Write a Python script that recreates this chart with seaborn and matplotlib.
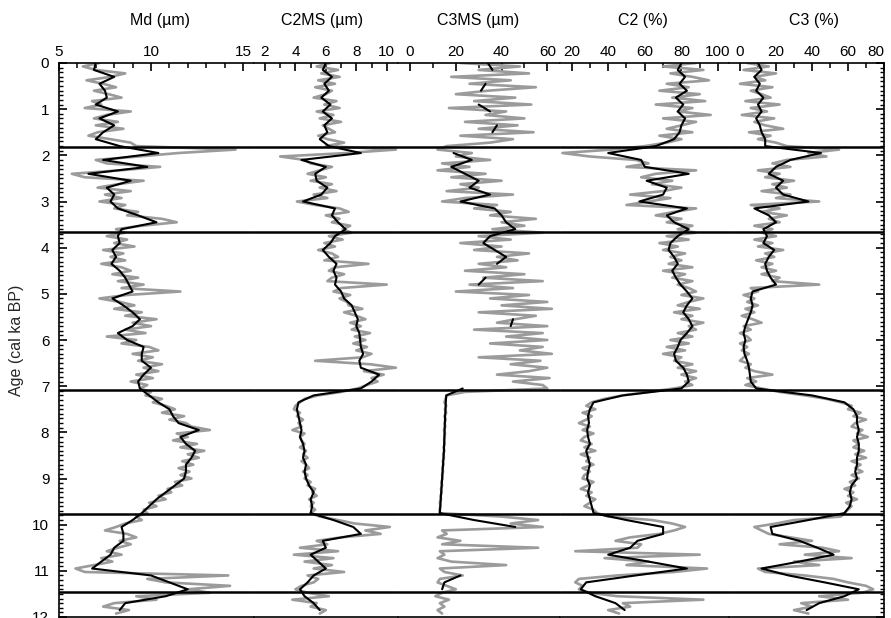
import numpy as np
import pandas as pd
import matplotlib
matplotlib.use('Agg')
import matplotlib.pyplot as plt
from matplotlib.ticker import MultipleLocator
import seaborn as sns

sns.set_style('ticks')
plt.rcParams['font.family'] = ['Liberation Sans', 'DejaVu Sans']
plt.rcParams['text.color'] = 'black'
plt.rcParams['axes.edgecolor'] = 'black'
plt.rcParams['xtick.color'] = 'black'
plt.rcParams['ytick.color'] = 'black'

nan = np.nan

# --- data ---
# raw samples every 0.075 ka, smoothed curve every 0.15 ka
age_raw = np.arange(160) * 0.075
age_smooth = np.arange(80) * 0.15

md_raw = [
    7.2, 6.3, 7.0, 8.6, 7.8, 6.5, 7.4, 8.1, 6.9, 7.7,
    8.4, 6.8, 7.3, 6.4, 8.9, 7.6, 6.9, 8.2, 7.0, 8.5,
    7.1, 6.6, 7.8, 8.9, 9.2, 14.6, 11.5, 9.3, 7.0, 7.6,
    10.5, 8.3, 5.7, 6.4, 9.6, 8.2, 7.1, 8.9, 7.5, 8.4,
    7.2, 8.6, 8.0, 9.3, 8.7, 10.6, 11.4, 9.5, 8.1, 8.6,
    7.6, 8.7, 8.0, 9.1, 7.4, 8.5, 7.8, 8.6, 7.3, 8.4,
    8.9, 7.9, 9.3, 8.2, 9.6, 8.4, 11.6, 8.7, 7.2, 8.3,
    9.1, 8.0, 9.5, 8.6, 10.3, 9.0, 10.0, 8.6, 9.7, 7.6,
    9.2, 8.4, 9.9, 10.4, 9.0, 10.1, 9.3, 10.6, 9.6, 10.4,
    9.2, 10.1, 8.9, 9.8, 9.4, 10.0, 9.7, 10.6, 10.1, 10.8,
    11.3, 10.6, 11.8, 11.0, 11.9, 12.2, 13.2, 11.4, 12.0, 11.2,
    12.5, 11.6, 12.9, 12.0, 12.6, 11.7, 12.3, 11.5, 12.1, 11.6,
    12.2, 11.3, 11.7, 10.9, 11.1, 10.4, 10.8, 9.9, 10.3, 9.6,
    9.8, 9.2, 9.5, 8.6, 8.1, 7.5, 8.7, 9.2, 8.3, 8.9,
    8.2, 7.6, 8.4, 7.3, 7.9, 6.9, 5.9, 6.4, 14.2, 9.8,
    10.8, 14.3, 12.0, 13.2, 9.2, 10.3, 8.0, 7.4, 8.8, 8.1,
]
md_smooth = [
    7.0, 6.9, 8.0, 7.2, 7.5, 7.6, 7.0, 8.2, 7.2, 8.0,
    7.4, 7.0, 8.3, 10.4, 7.4, 9.8, 6.6, 8.9, 7.6, 8.0,
    7.8, 8.2, 9.3, 10.3, 8.4, 8.2, 8.3, 7.9, 8.1, 7.85,
    8.3, 8.6, 8.8, 9.0, 7.9, 8.5, 9.0, 9.4, 9.0, 8.2,
    8.7, 9.6, 9.5, 9.5, 10.0, 9.6, 9.3, 9.4, 9.9, 10.4,
    11.0, 11.2, 11.5, 12.6, 11.6, 11.9, 12.4, 12.2, 11.9, 11.9,
    11.8, 11.3, 10.8, 10.3, 9.9, 9.5, 9.0, 8.4, 8.5, 8.5,
    8.0, 7.8, 7.3, 6.8, 10.0, 11.0, 12.0, 10.8, 8.6, 8.3,
]

c2ms_raw = [
    6.3, 5.4, 6.8, 5.7, 6.9, 5.5, 6.6, 5.3, 6.4, 6.0,
    5.2, 6.7, 5.9, 6.9, 5.4, 6.5, 5.6, 7.0, 5.8, 6.2,
    6.6, 5.5, 6.1, 7.2, 6.0, 10.6, 7.4, 3.0, 4.6, 5.0,
    6.4, 5.6, 4.8, 6.0, 5.0, 6.4, 5.6, 6.7, 5.2, 6.1,
    4.1, 5.3, 6.9, 7.5, 6.0, 6.9, 6.4, 7.6, 7.1, 7.7,
    6.2, 7.1, 5.9, 6.6, 5.5, 6.4, 6.8, 5.9, 8.8, 6.6,
    6.2, 7.2, 6.4, 6.1, 10.0, 7.0, 6.5, 7.6, 6.9, 7.4,
    7.5, 8.4, 7.2, 8.0, 8.6, 7.6, 8.3, 7.7, 8.9, 7.9,
    8.6, 7.8, 8.7, 8.0, 9.0, 8.4, 5.3, 8.9, 10.6, 8.5,
    9.8, 9.0, 9.4, 8.7, 8.1, 7.0, 5.5, 4.6, 4.3, 4.0,
    3.9, 4.3, 4.1, 4.5, 4.2, 4.4, 3.8, 4.6, 4.3, 4.4,
    4.6, 4.3, 4.7, 4.5, 4.8, 4.4, 4.7, 4.9, 4.5, 4.8,
    4.6, 5.0, 4.8, 5.3, 5.1, 5.4, 4.9, 5.2, 5.0, 5.3,
    5.0, 5.6, 6.8, 7.9, 10.2, 8.6, 9.6, 7.0, 5.4, 6.1,
    4.3, 6.8, 3.9, 6.5, 4.6, 6.4, 5.2, 7.2, 4.8, 5.5,
    5.2, 4.4, 4.0, 4.8, 6.2, 3.8, 5.4, 5.0, 6.0, 5.6,
]
c2ms_smooth = [
    6.0, 5.8, 6.4, 5.9, 6.2, 5.7, 6.3, 5.8, 6.4, 5.9,
    6.1, 5.6, 6.2, 8.3, 4.4, 6.0, 5.3, 5.4, 6.1, 5.7,
    4.5, 6.6, 6.4, 6.8, 7.3, 6.6, 6.3, 5.8, 6.2, 6.7,
    6.5, 6.7, 6.6, 7.0, 7.2, 7.7, 7.9, 8.1, 8.0, 8.2,
    8.25, 8.3, 8.45, 8.2, 8.3, 9.5, 9.0, 8.3, 5.2, 4.2,
    4.1, 4.2, 4.3, 4.4, 4.3, 4.5, 4.6, 4.5, 4.7, 4.6,
    4.7, 4.9, 5.2, 5.0, 5.1, 5.0, 6.5, 7.8, 8.3, 5.8,
    6.0, 5.0, 5.5, 6.0, 5.2, 4.8, 4.3, 4.6, 5.2, 5.6,
]

c3ms_raw = [
    22, 48, 30, 52, 18, 44, 26, 55, 34, 20,
    46, 28, 53, 17, 42, 33, 50, 24, 47, 30,
    54, 22, 45, 35, 16, 12, 27, 20, 35, 14,
    26, 12, 33, 18, 40, 22, 30, 16, 45, 24,
    14, 38, 28, 44, 35, 55, 40, 50, 36, 58,
    30, 44, 22, 40, 28, 52, 38, 47, 30, 42,
    24, 50, 32, 58, 26, 45, 20, 52, 35, 60,
    40, 62, 30, 55, 46, 38, 60, 28, 58, 42,
    60, 35, 58, 48, 62, 30, 57, 44, 60, 52,
    38, 61, 45, 58, 60, 24, 16, 15.5, 15.0, 15.8,
    15.2, 15.8, 15.0, 15.6, 15.1, 15.4, 14.8, 15.3, 15.0, 14.9,
    15.1, 14.6, 15.0, 14.5, 14.8, 14.3, 14.6, 14.1, 14.4, 14.0,
    14.2, 13.7, 14.0, 13.5, 13.8, 13.3, 13.5, 13.0, 13.3, 12.9,
    13.0, 40, 56, 44, 58, 14, 16, 12, 22, 14,
    56, 13, 15, 12, 18, 42, 13, 15, 23, 13,
    12, 16, 20, 14, 11, 17, 13, 15, 12, 14,
]
c3ms_smooth = [
    34, 36, nan, 33, 31, nan, 30, 35, nan, 38,
    36, nan, nan, 19, 27, 18, 24, 30, 26, 35,
    22, 37, 40, 42, 46, 35, 32, 37, 42, 38,
    nan, 33, 30, nan, nan, nan, nan, 45, 44, nan,
    nan, nan, nan, nan, nan, nan, nan, 23, 15.8, 15.6,
    15.5, 15.3, 15.2, 15.1, 15.0, 14.9, 14.8, 14.6, 14.4, 14.2,
    14.0, 13.8, 13.6, 13.4, 13.2, 13.0, 28, 46, nan, nan,
    nan, nan, nan, nan, 22, 15, 14, nan, nan, nan,
]

c2_raw = [
    88, 70, 92, 74, 86, 95, 72, 84, 68, 90,
    75, 93, 66, 86, 78, 96, 70, 88, 80, 72,
    86, 68, 80, 72, 60, 42, 15, 30, 55, 62,
    50, 88, 66, 58, 75, 64, 80, 70, 52, 74,
    62, 50, 88, 76, 66, 80, 72, 86, 78, 88,
    72, 84, 68, 78, 70, 82, 74, 80, 73, 86,
    70, 82, 75, 86, 78, 84, 88, 80, 92, 84,
    78, 90, 76, 86, 80, 92, 84, 88, 78, 86,
    74, 84, 72, 82, 70, 80, 76, 86, 78, 88,
    80, 88, 82, 86, 76, 62, 48, 38, 31, 28,
    33, 26, 31, 28, 24, 30, 26, 32, 27, 25,
    31, 27, 33, 25, 30, 28, 32, 26, 30, 27,
    26, 32, 29, 25, 31, 28, 33, 30, 27, 32,
    34, 40, 64, 75, 82, 76, 68, 52, 44, 58,
    56, 22, 90, 38, 62, 50, 94, 76, 45, 24,
    22, 26, 24, 30, 45, 92, 48, 52, 40, 46,
]
c2_smooth = [
    80, 78, 82, 79, 83, 77, 81, 78, 82, 80,
    79, 76, 66, 40, 58, 60, 84, 61, 72, 70,
    57, 83, 72, 76, 84, 78, 74, 73, 76, 78,
    75, 77, 79.5, 83, 86, 83, 81, 84, 86, 83,
    79.5, 78, 76, 77, 81, 83, 84, 80, 48, 32,
    30, 29, 29.5, 28.5, 29, 30, 28, 29, 30, 29,
    28.5, 30, 29, 30, 31, 32, 50, 70, 70, 56,
    52, 40, 62, 83, 55, 28, 25, 33, 44, 49,
]

c3_raw = [
    4, 16, 2, 20, 8, 14, 0, 18, 6, 12,
    17, 3, 22, 6, 15, 1, 19, 8, 14, 24,
    5, 17, 10, 20, 26, 55, 38, 48, 26, 18,
    28, 10, 22, 14, 30, 18, 26, 12, 28, 20,
    44, 6, 22, 12, 26, 16, 22, 8, 18, 12,
    20, 8, 18, 10, 24, 14, 19, 9, 18, 12,
    20, 12, 22, 18, 44, 6, 10, 2, 8, 4,
    10, 3, 8, 1, 7, 12, 2, 6, 0, 4,
    6, 0, 4, 1, 5, 2, 0, 6, 3, 8,
    18, 4, 9, 3, 12, 22, 36, 48, 56, 62,
    60, 67, 63, 70, 64, 62, 68, 65, 71, 63,
    66, 63, 69, 64, 70, 62, 67, 64, 68, 62,
    66, 61, 64, 58, 63, 60, 65, 59, 62, 60,
    58, 56, 30, 20, 8, 12, 16, 28, 40, 22,
    46, 55, 36, 62, 30, 44, 10, 14, 36, 52,
    60, 70, 74, 68, 44, 60, 34, 40, 30, 38,
]
c3_smooth = [
    10, 12, 8, 11, 9, 13, 10, 12, 9, 11,
    12, 14, 14, 45, 28, 20, 16, 24, 20, 24,
    38, 8, 16, 20, 13, 15, 13, 19, 16, 14,
    15, 17, 20, 7, 6, 7, 6, 4.5, 3, 2,
    3, 2, 2.5, 4, 5, 5.5, 6, 9, 40, 58,
    63, 65, 65, 66, 65, 66, 66, 65, 65, 64,
    65, 62, 61, 62, 61, 58, 38, 17, 18, 33,
    43, 52, 33, 12, 27, 47, 66, 58, 44, 37,
]

titles = ['Md (µm)', 'C2MS (µm)', 'C3MS (µm)', 'C2 (%)', 'C3 (%)']
boundaries = [1.81, 3.65, 7.08, 9.77, 11.45]

# --- layout (pixel positions of the panels in the 891x618 figure) ---
W, H = 891, 618
edges = [59, 254, 398, 559.5, 729, 884]
top_px, bot_px = 63, 617
title_x = [160, 322, 478, 643, 814]
xlims = [(5, 15.6), (1.28, 10.74), (-5.3, 65.35), (13.4, 106), (-6.1, 80)]
majors = [5, 2, 20, 20, 20]
minors = [1, 1, 10, 10, 10]
raws = [md_raw, c2ms_raw, c3ms_raw, c2_raw, c3_raw]
smooths = [md_smooth, c2ms_smooth, c3ms_smooth, c2_smooth, c3_smooth]


def trace(ax, ages, vals, color, lw, z):
    df = pd.DataFrame({'age': ages, 'val': vals})
    df['seg'] = df['val'].isna().cumsum()
    df = df.dropna()
    sns.lineplot(data=df, x='val', y='age', units='seg', estimator=None,
                 sort=False, orient='y', color=color, linewidth=lw,
                 legend=False, ax=ax, zorder=z)


fig = plt.figure(figsize=(W / 100, H / 100), dpi=100)
axes = []
for i in range(5):
    x0, x1 = edges[i], edges[i + 1]
    ax = fig.add_axes([x0 / W, 1 - bot_px / H, (x1 - x0) / W, (bot_px - top_px) / H])
    axes.append(ax)
    trace(ax, age_raw, raws[i], '#9b9b9b', 1.9, 2)
    trace(ax, age_smooth, smooths[i], 'black', 1.5, 3)
    for b in boundaries:
        ax.axhline(b, color='black', lw=1.8, zorder=4)
    ax.set_xlim(*xlims[i])
    ax.set_ylim(12, 0)
    ax.set_xlabel('')
    ax.set_ylabel('')
    ax.xaxis.set_major_locator(MultipleLocator(majors[i]))
    ax.xaxis.set_minor_locator(MultipleLocator(minors[i]))
    ax.xaxis.set_ticks_position('top')
    ax.xaxis.set_label_position('top')
    ax.tick_params(axis='x', which='both', direction='in', top=True, bottom=False,
                   labeltop=True, labelbottom=False, labelsize=11, pad=3,
                   color='black', zorder=6)
    ax.tick_params(axis='x', which='major', length=6, width=1.2)
    ax.tick_params(axis='x', which='minor', length=3.5, width=1.1)
    for s in ['top', 'bottom', 'left', 'right']:
        ax.spines[s].set_linewidth(1.2)
        ax.spines[s].set_zorder(6)
    if i > 0:
        ax.spines['left'].set_visible(False)
    if i < 4:
        ax.spines['right'].set_visible(False)
    ax.yaxis.set_major_locator(MultipleLocator(1))
    ax.yaxis.set_minor_locator(MultipleLocator(0.1))
    if i == 0:
        ax.tick_params(axis='y', which='both', direction='in', left=True, right=False,
                       labelleft=True, labelsize=11, pad=7, color='black')
        ax.tick_params(axis='y', which='major', length=6, width=1.2)
        ax.tick_params(axis='y', which='minor', length=3, width=1.0)
        ax.set_ylabel('Age (cal ka BP)', fontsize=11.5, labelpad=6)
    elif i == 4:
        ax.yaxis.set_ticks_position('right')
        ax.tick_params(axis='y', which='both', direction='in', left=False, right=True,
                       labelleft=False, labelright=False, color='black')
        ax.tick_params(axis='y', which='major', length=6, width=1.2)
        ax.tick_params(axis='y', which='minor', length=3, width=1.0)
    else:
        ax.tick_params(axis='y', which='both', left=False, right=False, labelleft=False)
    fig.text(title_x[i] / W, 1 - 21 / H, titles[i], ha='center', va='center', fontsize=11.5)

# last tick label of the last panel sits inside the frame
for lab in axes[4].get_xticklabels():
    if lab.get_text() == '80':
        lab.set_ha('right')

fig.savefig('out.png', dpi=100)
